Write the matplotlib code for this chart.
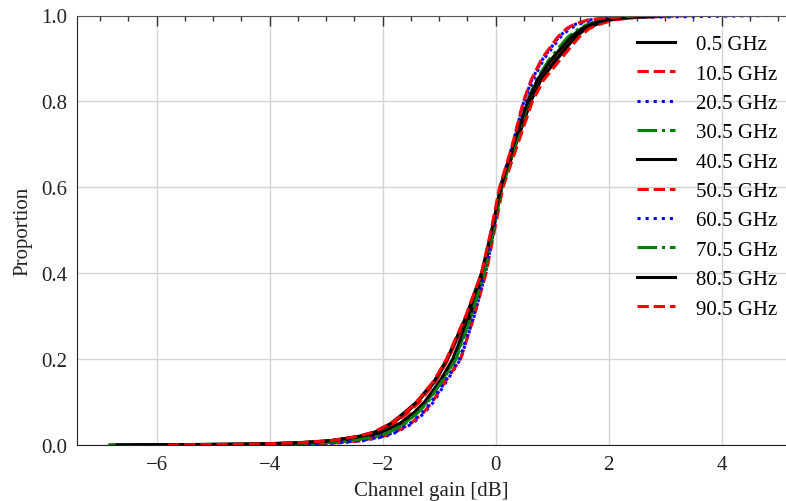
import numpy as np
import matplotlib
matplotlib.use("Agg")
import matplotlib.pyplot as plt
from matplotlib.ticker import MultipleLocator

plt.rcParams['font.family'] = ['Liberation Serif', 'DejaVu Serif']
plt.rcParams['font.size'] = 15

proportion = [0.0, 0.002, 0.005, 0.01, 0.02, 0.03, 0.05, 0.075, 0.1, 0.15, 0.2,
              0.3, 0.4, 0.5, 0.6, 0.7, 0.8, 0.85, 0.9, 0.95, 0.97, 0.98, 0.99,
              0.995, 1.0]

labels = ["0.5 GHz", "10.5 GHz", "20.5 GHz", "30.5 GHz", "40.5 GHz",
          "50.5 GHz", "60.5 GHz", "70.5 GHz", "80.5 GHz", "90.5 GHz"]

# channel gain [dB] for each frequency at the proportions above
gain_0p5 = [-6.80, -4.40, -3.55, -2.95, -2.40, -2.12, -1.83, -1.58, -1.38, -1.06, -0.85,
            -0.50, -0.24, -0.06, 0.10, 0.35, 0.62, 0.80, 1.10, 1.40, 1.60, 1.80, 2.05,
            2.35, 3.10]
gain_10p5 = [-5.60, -4.20, -3.40, -2.85, -2.35, -2.08, -1.80, -1.55, -1.35, -1.05, -0.84,
             -0.50, -0.23, -0.05, 0.09, 0.33, 0.58, 0.76, 1.02, 1.35, 1.55, 1.72, 1.98,
             2.30, 2.90]
gain_20p5 = [-4.80, -3.30, -2.75, -2.35, -1.95, -1.75, -1.47, -1.26, -1.10, -0.86, -0.62,
             -0.38, -0.18, -0.03, 0.08, 0.30, 0.50, 0.64, 0.84, 1.12, 1.28, 1.42, 1.68,
             2.05, 3.20]
gain_30p5 = [-6.86, -3.90, -3.10, -2.60, -2.15, -1.92, -1.62, -1.40, -1.22, -0.95, -0.72,
             -0.44, -0.21, -0.05, 0.10, 0.34, 0.56, 0.72, 0.96, 1.28, 1.48, 1.64, 1.90,
             2.20, 2.80]
gain_40p5 = [-6.40, -4.10, -3.30, -2.75, -2.25, -2.00, -1.70, -1.45, -1.26, -0.98, -0.76,
             -0.46, -0.22, -0.05, 0.11, 0.36, 0.62, 0.80, 1.08, 1.42, 1.60, 1.78, 2.02,
             2.40, 3.00]
gain_50p5 = [-4.60, -3.40, -2.85, -2.40, -2.00, -1.78, -1.50, -1.28, -1.12, -0.88, -0.62,
             -0.38, -0.17, -0.02, 0.13, 0.39, 0.65, 0.85, 1.16, 1.48, 1.66, 1.85, 2.10,
             2.45, 3.50]
gain_60p5 = [-4.90, -3.50, -2.85, -2.40, -2.00, -1.78, -1.52, -1.30, -1.14, -0.89, -0.64,
             -0.39, -0.19, -0.04, 0.08, 0.31, 0.51, 0.66, 0.86, 1.15, 1.32, 1.48, 1.72,
             2.10, 4.90]
gain_70p5 = [-6.00, -3.80, -3.05, -2.55, -2.10, -1.88, -1.60, -1.38, -1.20, -0.94, -0.70,
             -0.43, -0.20, -0.04, 0.11, 0.35, 0.58, 0.74, 1.00, 1.32, 1.52, 1.68, 1.95,
             2.25, 2.90]
gain_80p5 = [-6.70, -4.30, -3.45, -2.90, -2.42, -2.14, -1.86, -1.62, -1.40, -1.08, -0.86,
             -0.52, -0.25, -0.07, 0.09, 0.32, 0.57, 0.74, 1.00, 1.34, 1.54, 1.70, 1.96,
             2.30, 3.00]
gain_90p5 = [-5.80, -4.30, -3.50, -2.92, -2.45, -2.16, -1.86, -1.60, -1.40, -1.09, -0.87,
             -0.53, -0.25, -0.08, 0.07, 0.30, 0.49, 0.63, 0.82, 1.10, 1.26, 1.40, 1.64,
             2.00, 2.60]

gains = [gain_0p5, gain_10p5, gain_20p5, gain_30p5, gain_40p5,
         gain_50p5, gain_60p5, gain_70p5, gain_80p5, gain_90p5]

styles = [('k', '-'), ('r', '--'), ('b', ':'), ('g', '-.')]

fig = plt.figure(figsize=(7.86, 5.02), dpi=100)
ax = fig.add_axes([77/786, 56/502, 1 - 77/786, (446 - 16.5)/502])

for i in range(len(gains)):
    c, ls = styles[i % 4]
    ax.plot(gains[i], proportion, color=c, linestyle=ls, lw=2.2, label=labels[i])

ax.set_xlim(-7.41, 5.14)
ax.set_ylim(0, 1.0)
ax.xaxis.set_major_locator(MultipleLocator(2))
ax.xaxis.set_minor_locator(MultipleLocator(0.5))
ax.yaxis.set_major_locator(MultipleLocator(0.2))

ax.grid(True, color='#d4d4d4', lw=1)
ax.set_axisbelow(True)

ax.tick_params(which='both', direction='in', bottom=False, left=False, right=False,
               top=True, labelbottom=True, labelleft=True, colors='#333333')
ax.tick_params(which='major', length=7, width=1, pad=7)
ax.tick_params(which='minor', length=3.5, width=1)
ax.tick_params(axis='y', which='minor', left=False, right=False)
ax.tick_params(axis='both', labelcolor='#222222')

ax.spines['right'].set_visible(False)
ax.spines['top'].set_color('#555555')
ax.spines['left'].set_color('#222222')
ax.spines['bottom'].set_color('#222222')

ax.set_xlabel("Channel gain [dB]", color='#222222', labelpad=5)
ax.set_ylabel("Proportion", color='#222222', labelpad=6)

ax.legend(loc='upper right', bbox_to_anchor=(1.0, 0.975), frameon=False,
          handlelength=1.85, handletextpad=1.0, labelspacing=0.47, borderaxespad=0)

fig.savefig("out.png", dpi=100)
